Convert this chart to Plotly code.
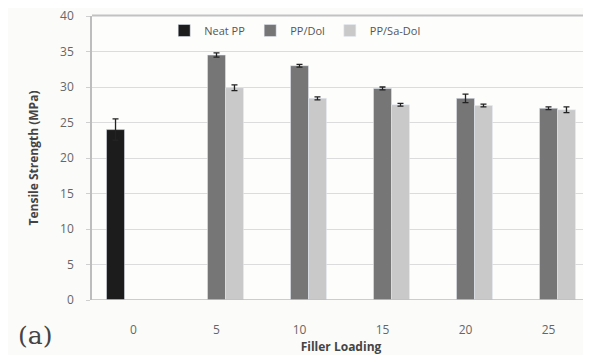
import plotly.graph_objects as go

categories = ["0", "5", "10", "15", "20", "25"]
neat_pp = [24.0, None, None, None, None, None]
neat_pp_err = [1.5, 0, 0, 0, 0, 0]
pp_dol = [None, 34.5, 33.0, 29.8, 28.4, 27.0]
pp_dol_err = [0, 0.3, 0.2, 0.2, 0.6, 0.2]
pp_sadol = [None, 29.9, 28.4, 27.5, 27.4, 26.8]
pp_sadol_err = [0, 0.4, 0.2, 0.2, 0.2, 0.4]
y_ticks = [0, 5, 10, 15, 20, 25, 30, 35, 40]

fig = go.Figure()
err_style = dict(type="data", thickness=1.3, width=3, color="#222")
fig.add_bar(x=categories, y=neat_pp, name="Neat PP", marker_color="#1c1c1c",
            error_y=dict(array=neat_pp_err, **err_style))
fig.add_bar(x=categories, y=pp_dol, name="PP/Dol", marker_color="#767676",
            error_y=dict(array=pp_dol_err, **err_style))
fig.add_bar(x=categories, y=pp_sadol, name="PP/Sa-Dol", marker_color="#c9c9c9",
            error_y=dict(array=pp_sadol_err, **err_style))

fig.update_layout(
    width=583, height=347,
    margin=dict(l=84, r=1, t=8, b=55, autoexpand=False),
    paper_bgcolor="#fbfbfa", plot_bgcolor="#fdfdfc",
    barmode="group", bargap=0.35, bargroupgap=0,
    font=dict(family="Open Sans, DejaVu Sans, sans-serif", size=11, color="#555"),
    legend=dict(orientation="h", x=0.145, y=1.0, xanchor="left", yanchor="top",
                bgcolor="rgba(0,0,0,0)", font=dict(size=11, color="#555"),
                itemwidth=30, tracegroupgap=0),
    showlegend=True,
    xaxis=dict(showgrid=False, showline=False, ticks="", automargin=False,
               ticklabelstandoff=21,
               tickfont=dict(size=12, color="#666"),
               title=dict(text="<b>Filler Loading</b>", font=dict(size=12, color="#444"), standoff=12)),
    yaxis=dict(range=[0, 40], tickvals=y_ticks, showgrid=True, gridcolor="#dcdcdc",
               gridwidth=1.2, showline=True, linecolor="#bdbdbd", linewidth=1.5,
               ticks="outside", ticklen=4, tickcolor="#cfcfcf", automargin=False,
               ticklabelstandoff=10, ticklabeloverflow="allow",
               tickfont=dict(size=12, color="#666"), zeroline=False,
               title=dict(text="<b>Tensile Strength (MPa)</b>", font=dict(size=12, color="#444"), standoff=19)),
)
fig.add_shape(type="line", xref="paper", yref="y", x0=0, x1=1, y0=0, y1=0,
              line=dict(color="#bdbdbd", width=1.5))
fig.add_shape(type="line", xref="paper", yref="paper", x0=0, x1=1, y0=1.002, y1=1.002,
              line=dict(color="#c2c2c2", width=2), layer="above")
fig.add_annotation(text="(a)", xref="paper", yref="paper", x=-0.114, y=-0.125,
                   xanchor="center", yanchor="middle", showarrow=False,
                   font=dict(family="DejaVu Serif, Liberation Serif, serif", size=25, color="#444"))

fig.write_html("out.html")
